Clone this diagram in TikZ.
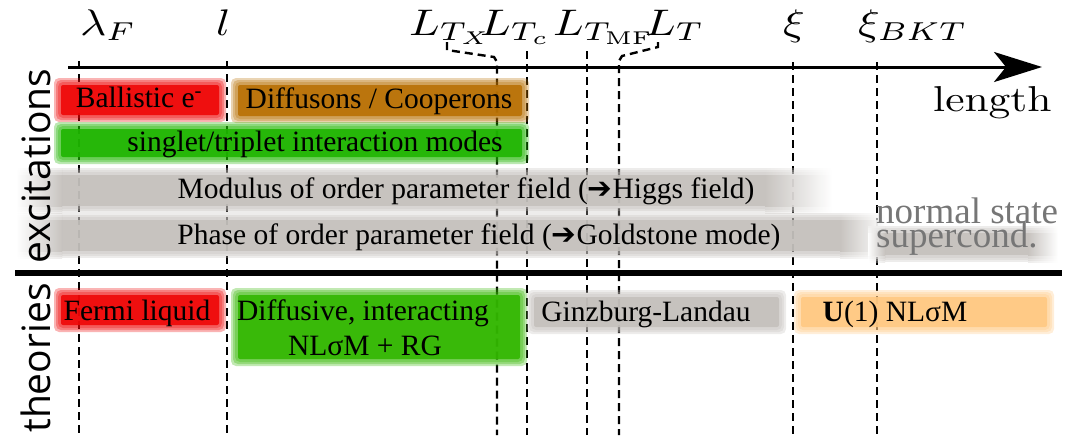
\documentclass[tikz,border=0pt]{standalone}
\usepackage[no-math]{fontspec}
\setmainfont{Liberation Serif}
\newfontfamily\osans{Open Sans}
\newfontfamily\dejavu{DejaVu Sans}
\usepackage{graphicx}
\usetikzlibrary{arrows.meta}

\definecolor{bred}{RGB}{238,6,6}
\definecolor{bbrown}{RGB}{184,112,4}
\definecolor{bgreen}{RGB}{30,180,0}
\definecolor{bgreenb}{RGB}{50,182,0}
\definecolor{bgray}{RGB}{196,192,188}
\definecolor{borange}{RGB}{255,200,130}
\definecolor{txtgray}{RGB}{118,118,118}

\newcommand{\softband}[5]{%
  \foreach \e in {7,5,3}{\fill[#5,opacity=0.3,rounded corners=5pt] ({#1-\e},{#2-\e}) rectangle ({#3+\e},{#4+\e});}
  \fill[#5,opacity=0.9,rounded corners=2pt] (#1,#2) rectangle (#3,#4);}

\newcommand{\fadeband}[7]{%
  \foreach \e/\op in {7/0.3,5/0.3,3/0.3,0/0.85}{%
    \shade[left color=white,right color=#7,opacity=\op] (#1,{#5-\e}) rectangle (#2,{#6+\e});
    \fill[#7,opacity=\op] (#2,{#5-\e}) rectangle (#3,{#6+\e});
    \shade[left color=#7,right color=white,opacity=\op] (#3,{#5-\e}) rectangle (#4,{#6+\e});}}

\tikzset{
  vdash/.style={line width=2.4pt, dash pattern=on 8pt off 5pt},
  bt/.style={font=\fontsize{29.5}{35}\selectfont, inner sep=0pt, anchor=base},
  mlab/.style={inner sep=0pt, anchor=base west},
  side/.style={font=\osans\fontsize{39}{44}\selectfont, inner sep=0pt, anchor=base, rotate=90},
  graytxt/.style={font=\fontsize{37}{40}\selectfont, text=txtgray, inner sep=0pt, anchor=base west},
}

\begin{document}
\begin{tikzpicture}[x=1pt,y=-1pt]
\useasboundingbox (0,0) rectangle (1075,437);

% axis
\coordinate (ax0) at (68,67);
\coordinate (ax1) at (1042,67);
\draw[line width=3pt,-{Stealth[length=48pt,width=30pt,inset=12pt]}] (ax0) -- (ax1);

% separator
\coordinate (sep0) at (15,273);
\coordinate (sep1) at (1062,273);
\draw[line width=6pt] (sep0) -- (sep1);

% labels at top
\node[mlab] (lF)   at (80,35)  {\scalebox{4.5}[3.7]{$\lambda_F$}};
\node[mlab] (ll)   at (216,35) {\scalebox{4.5}[3.7]{$l$}};
\node[mlab] (lTX)  at (409,35) {\scalebox{4.5}[3.7]{$L_{T_X}$}};
\node[mlab] (lTc)  at (480,35) {\scalebox{4.5}[3.7]{$L_{T_c}$}};
\node[mlab] (lTMF) at (553,35) {\scalebox{4.5}[3.7]{$L_{T_{\mathrm{MF}}}$}};
\node[mlab] (lT)   at (645,35) {\scalebox{4.5}[3.7]{$L_T$}};
\node[mlab] (lxi)  at (783,35) {\scalebox{4.5}[3.7]{$\xi$}};
\node[mlab] (lxiB) at (858,35) {\scalebox{4.5}[3.7]{$\xi_{BKT}$}};
\node[mlab] (len)  at (933,111) {\scalebox{4.35}[3.6]{$\mathrm{length}$}};

% dashed vertical markers
\coordinate (a0) at (79,61);  \coordinate (a1) at (79,435);
\coordinate (b0) at (227,61); \coordinate (b1) at (227,435);
\coordinate (c0) at (447,42); \coordinate (c1) at (447,50); \coordinate (c2) at (494,57); \coordinate (c3) at (497,62); \coordinate (c4) at (497,435);
\coordinate (d0) at (527,51); \coordinate (d1) at (527,435);
\coordinate (e0) at (587,51); \coordinate (e1) at (587,435);
\coordinate (f0) at (658,42); \coordinate (f1) at (658,47); \coordinate (f2) at (622,56); \coordinate (f3) at (619,61); \coordinate (f4) at (619,435);
\coordinate (g0) at (793,62); \coordinate (g1) at (793,435);
\coordinate (h0) at (877,62); \coordinate (h1) at (877,435);
\draw[vdash] (a0) -- (a1);
\draw[vdash] (b0) -- (b1);
\draw[vdash] (c0) -- (c1) -- (c2) -- (c3) -- (c4);
\draw[vdash] (d0) -- (d1);
\draw[vdash] (e0) -- (e1);
\draw[vdash] (f0) -- (f1) -- (f2) -- (f3) -- (f4);
\draw[vdash] (g0) -- (g1);
\draw[vdash] (h0) -- (h1);

% excitation bands
\softband{61}{85}{219}{115}{bred}
\softband{238}{85}{522}{116}{bbrown}
\softband{61}{129}{522}{157}{bgreen}
\fadeband{16}{62}{765}{832}{175}{206}{bgray}
\fadeband{16}{62}{840}{885}{220}{251}{bgray}
\fadeband{868}{885}{1028}{1058}{233}{255}{bgray}

% theory bands
\softband{61}{295}{219}{325}{bred}
\softband{238}{295}{520}{359}{bgreenb}
\softband{534}{297}{779}{327}{bgray}
\softband{801}{297}{1047}{327}{borange}

% band texts
\node[bt] (ball) at (139,107) {Ballistic e\textsuperscript{-}};
\node[bt] (diff) at (379,108) {Diffusons / Cooperons};
\node[bt] (sing) at (315,151) {singlet/triplet interaction modes};
\node[bt] (mod)  at (466,198) {Modulus of order parameter field ({\dejavu ➔}Higgs field)};
\node[bt] (pha)  at (479,244) {Phase of order parameter field ({\dejavu ➔}Goldstone mode)};
\node[graytxt] (nst) at (876,223) {normal state};
\node[graytxt] (sct) at (876,247) {supercond.};

\node[bt] (fermi) at (137,320) {Fermi liquid};
\node[bt] (dif1)  at (363,320) {Diffusive, interacting};
\node[bt] (dif2)  at (365,355) {NLσM + RG};
\node[bt] (gl)    at (646,321) {Ginzburg-Landau};
\node[bt] (u1)    at (895,321) {\textbf{U}(1) NLσM};

% side labels
\node[side] (exc) at (50,166) {excitations};
\node[side] (the) at (50,358) {theories};
\end{tikzpicture}
\end{document}
